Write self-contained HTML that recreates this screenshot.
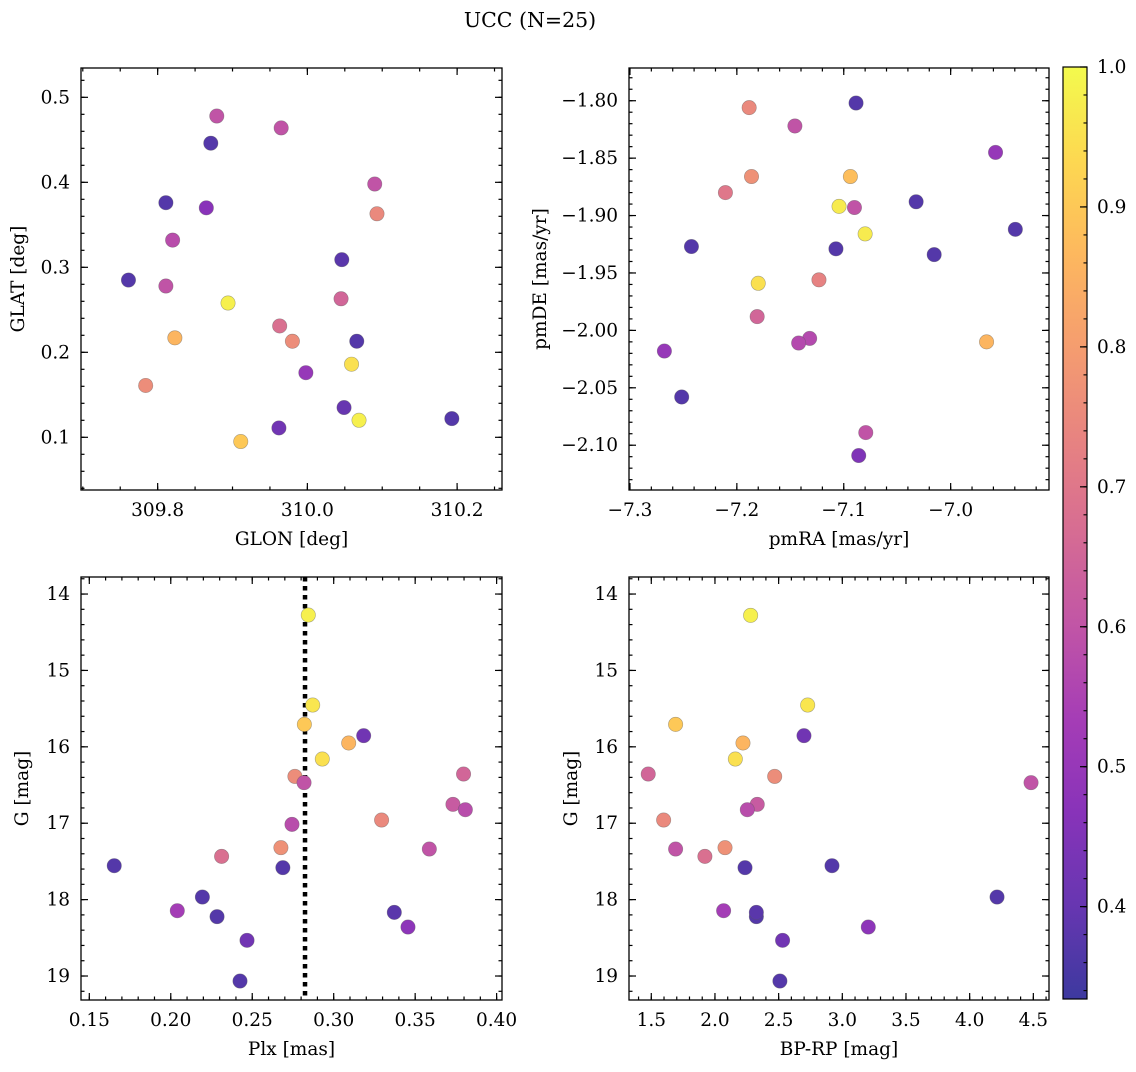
<!DOCTYPE html>
<html><head><meta charset="utf-8"><style>
html,body{margin:0;padding:0;background:#fff;}
svg text{font-family:"DejaVu Serif","Liberation Serif",serif;fill:#000;}
</style></head><body>
<svg id="fig" width="1136" height="1067" viewBox="0 0 1136 1067" xmlns="http://www.w3.org/2000/svg">
<text x="530" y="27" font-size="20.5" text-anchor="middle">UCC (N=25)</text>
</svg>
<script>
// ---- data ----
const glon = [309.879,309.965,309.871,309.811,309.865,310.090,310.093,309.820,309.761,310.046,309.811,309.894,310.045,309.963,309.980,309.823,310.066,309.998,310.059,309.784,310.049,310.069,310.193,309.962,309.911];
const glat = [0.478,0.464,0.446,0.376,0.370,0.398,0.363,0.332,0.285,0.309,0.278,0.258,0.263,0.231,0.213,0.217,0.213,0.176,0.186,0.161,0.135,0.120,0.122,0.111,0.095];
const probA = [0.6,0.6,0.37,0.37,0.47,0.6,0.75,0.58,0.37,0.38,0.6,0.98,0.65,0.68,0.76,0.86,0.37,0.5,0.95,0.76,0.4,0.98,0.37,0.42,0.9];

const pmra = [-7.1885,-7.0885,-7.1457,-6.958,-7.1863,-7.0938,-7.2107,-7.1044,-7.090,-7.0323,-7.080,-6.9395,-7.2425,-7.1073,-7.0154,-7.1232,-7.180,-7.181,-7.1319,-7.1422,-6.9664,-7.2678,-7.2516,-7.0794,-7.086];
const pmde = [-1.806,-1.802,-1.822,-1.845,-1.866,-1.866,-1.880,-1.892,-1.893,-1.888,-1.916,-1.912,-1.927,-1.929,-1.934,-1.956,-1.959,-1.988,-2.007,-2.011,-2.010,-2.018,-2.058,-2.089,-2.109];
const probB = [0.75,0.37,0.6,0.5,0.77,0.88,0.7,0.97,0.6,0.37,0.97,0.37,0.37,0.37,0.37,0.73,0.95,0.65,0.57,0.57,0.86,0.5,0.37,0.6,0.45];

const plx = [0.2844,0.2871,0.2820,0.3184,0.3092,0.2930,0.3797,0.2762,0.2818,0.3732,0.3808,0.3294,0.2744,0.3587,0.2676,0.2312,0.1653,0.2688,0.2194,0.2040,0.2284,0.3372,0.3456,0.2468,0.2425];
const gmagC = [14.275,15.453,15.706,15.854,15.950,16.160,16.356,16.387,16.469,16.753,16.823,16.958,17.015,17.338,17.320,17.434,17.556,17.582,17.966,18.145,18.223,18.167,18.359,18.533,19.066];
const probC = [0.98,0.96,0.9,0.42,0.86,0.95,0.65,0.76,0.6,0.62,0.58,0.75,0.58,0.6,0.77,0.68,0.37,0.37,0.37,0.53,0.37,0.38,0.48,0.42,0.37];
const plxLine = [0.2824];

const bprp = [2.280,2.728,1.691,2.699,2.220,2.160,1.476,2.469,4.482,2.332,2.254,1.597,1.691,2.079,1.921,2.919,2.236,4.215,2.068,2.325,2.325,3.204,2.531,2.510];
const gmagD = [14.279,15.453,15.706,15.854,15.950,16.160,16.356,16.387,16.469,16.753,16.823,16.958,17.338,17.320,17.434,17.556,17.582,17.966,18.145,18.223,18.167,18.359,18.533,19.066];
const probD = [0.98,0.96,0.9,0.42,0.86,0.95,0.65,0.76,0.6,0.62,0.58,0.75,0.6,0.77,0.68,0.37,0.37,0.37,0.53,0.37,0.38,0.48,0.42,0.37];

const cbTicks = [0.4,0.5,0.6,0.7,0.8,0.9,1.0];
const VMIN = 0.334, VMAX = 1.0;

// ---- helpers ----
const NS = "http://www.w3.org/2000/svg";
const svg = document.getElementById('fig');
const TF = 18.5, LF = 18.5;
function mk(tag, attrs, parent){ const e=document.createElementNS(NS,tag); for(const k in attrs) e.setAttribute(k,attrs[k]); (parent||svg).appendChild(e); return e; }
const plasma = [[13,8,135],[65,4,157],[106,0,168],[143,13,164],[177,42,144],[204,71,120],[225,100,98],[242,132,75],[252,166,54],[252,206,37],[240,249,33]];
function cmap(p){
  let t=(p-VMIN)/(VMAX-VMIN); t=Math.max(0,Math.min(1,t));
  const f=t*10, i=Math.min(9,Math.floor(f)), r=f-i;
  const c=plasma[i].map((v,k)=>v+(plasma[i+1][k]-v)*r);
  const b=c.map(v=>Math.round(0.8*v+0.2*255));
  return `rgb(${b[0]},${b[1]},${b[2]})`;
}
function fmt(v,d){ const s=Math.abs(v).toFixed(d); return (v<-1e-9?'\u2212':'')+s; }

function panel(o){
  const g=mk('g',{});
  
  
  const sx=v=>o.x0+(v-o.xmin)/(o.xmax-o.xmin)*(o.x1-o.x0);
  const sy=v=> o.yinv ? o.y0+(v-o.ymin)/(o.ymax-o.ymin)*(o.y1-o.y0) : o.y1-(v-o.ymin)/(o.ymax-o.ymin)*(o.y1-o.y0);
  const tg=mk('g',{stroke:'#000','stroke-width':1.2},g);
  function ticks(axis, step, len, labels, dec){
    const lo = axis==='x'?o.xmin:o.ymin, hi = axis==='x'?o.xmax:o.ymax;
    const start=Math.ceil(lo/step-1e-6);
    for(let k=start;k*step<=hi+1e-9;k++){
      const v=k*step;
      if(axis==='x'){ const p=sx(v);
        mk('line',{x1:p,x2:p,y1:o.y1,y2:o.y1-len},tg); mk('line',{x1:p,x2:p,y1:o.y0,y2:o.y0+len},tg);
        if(labels){ const t=mk('text',{x:p,y:o.y1+26,'font-size':TF,'text-anchor':'middle'},g); t.textContent=fmt(v,dec);
            }
      } else { const p=sy(v);
        mk('line',{x1:o.x0,x2:o.x0+len,y1:p,y2:p},tg); mk('line',{x1:o.x1,x2:o.x1-len,y1:p,y2:p},tg);
        if(labels){ const t=mk('text',{x:o.x0-11,y:p+6,'font-size':TF,'text-anchor':'end'},g); t.textContent=fmt(v,dec);
            }
      }
    }
  }
  ticks('x',o.xminor,3.5,false); ticks('x',o.xmajor,7,true,o.xdec);
  ticks('y',o.yminor,3.5,false); ticks('y',o.ymajor,7,true,o.ydec);
  if(o.vline){ o.vline.forEach(v=>{ const l=mk('line',{x1:sx(v),x2:sx(v),y1:o.y0,y2:o.y1,stroke:'#000','stroke-width':4.5,'stroke-dasharray':'4.5 4.5'},g);
      }); }
  o.xs.forEach((xv,i)=>{
    const c=mk('circle',{cx:sx(xv),cy:sy(o.ys[i]),r:7.2,fill:cmap(o.ps[i]),stroke:'rgba(90,90,90,0.5)','stroke-width':0.6},g);
     
  });
  const fr=mk('rect',{x:o.x0,y:o.y0,width:o.x1-o.x0,height:o.y1-o.y0,fill:'none',stroke:'#000','stroke-width':1.3},g);
   
  const xl=mk('text',{x:(o.x0+o.x1)/2,y:o.y1+55,'font-size':LF,'text-anchor':'middle'},g); xl.textContent=o.xlabel;
   
  const yl=mk('text',{x:0,y:0,'font-size':LF,'text-anchor':'middle',transform:`translate(${o.ylx},${(o.y0+o.y1)/2}) rotate(-90)`},g); yl.textContent=o.ylabel;
   
}

panel({name:'glon-glat-panel',x0:81,x1:502,y0:68,y1:490,xmin:309.6976,xmax:310.260,ymin:0.038,ymax:0.5345,
  xmajor:0.2,xminor:0.05,xdec:1,ymajor:0.1,yminor:0.02,ydec:1,xs:glon,ys:glat,ps:probA,xlabel:'GLON [deg]',ylabel:'GLAT [deg]',ylx:24});
panel({name:'pm-panel',x0:629,x1:1049,y0:68,y1:490,xmin:-7.3009,xmax:-6.908,ymin:-2.139,ymax:-1.7715,
  xmajor:0.1,xminor:0.02,xdec:1,ymajor:0.05,yminor:0.01,ydec:2,xs:pmra,ys:pmde,ps:probB,xlabel:'pmRA [mas/yr]',ylabel:'pmDE [mas/yr]',ylx:546});
panel({name:'plx-g-panel',x0:81,x1:502,y0:577,y1:1000,xmin:0.1449,xmax:0.4033,ymin:13.777,ymax:19.314,yinv:true,
  xmajor:0.05,xminor:0.01,xdec:2,ymajor:1,yminor:0.2,ydec:0,xs:plx,ys:gmagC,ps:probC,vline:plxLine,xlabel:'Plx [mas]',ylabel:'G [mag]',ylx:28});
panel({name:'cmd-panel',x0:629,x1:1049,y0:577,y1:1000,xmin:1.325,xmax:4.623,ymin:13.777,ymax:19.314,yinv:true,
  xmajor:0.5,xminor:0.1,xdec:1,ymajor:1,yminor:0.2,ydec:0,xs:bprp,ys:gmagD,ps:probD,xlabel:'BP-RP [mag]',ylabel:'G [mag]',ylx:577});

// colorbar
(function(){
  const x0=1063,x1=1087,y0=67,y1=999;
  const defs=mk('defs',{});
  const lg=mk('linearGradient',{id:'cbg',x1:0,y1:1,x2:0,y2:0},defs);
  for(let i=0;i<=20;i++){ const p=VMIN+(VMAX-VMIN)*i/20; mk('stop',{offset:(i/20),'stop-color':cmap(p)},lg); }
  const g=mk('g',{});  
  mk('rect',{x:x0,y:y0,width:x1-x0,height:y1-y0,fill:'url(#cbg)',stroke:'#000','stroke-width':1.2},g);
  const sy=v=>y1-(v-VMIN)/(VMAX-VMIN)*(y1-y0);
  for(let k=Math.ceil(VMIN/0.02);k*0.02<=VMAX+1e-9;k++){ const p=sy(k*0.02); mk('line',{x1:x1,x2:x1-3.5,y1:p,y2:p,stroke:'#000','stroke-width':1.1},g); }
  cbTicks.forEach(v=>{ const p=sy(v); mk('line',{x1:x1,x2:x1-7,y1:p,y2:p,stroke:'#000','stroke-width':1.2},g);
    const t=mk('text',{x:x1+10,y:p+6,'font-size':TF},g); t.textContent=v.toFixed(1);
      });
})();
</script>
</body></html>
